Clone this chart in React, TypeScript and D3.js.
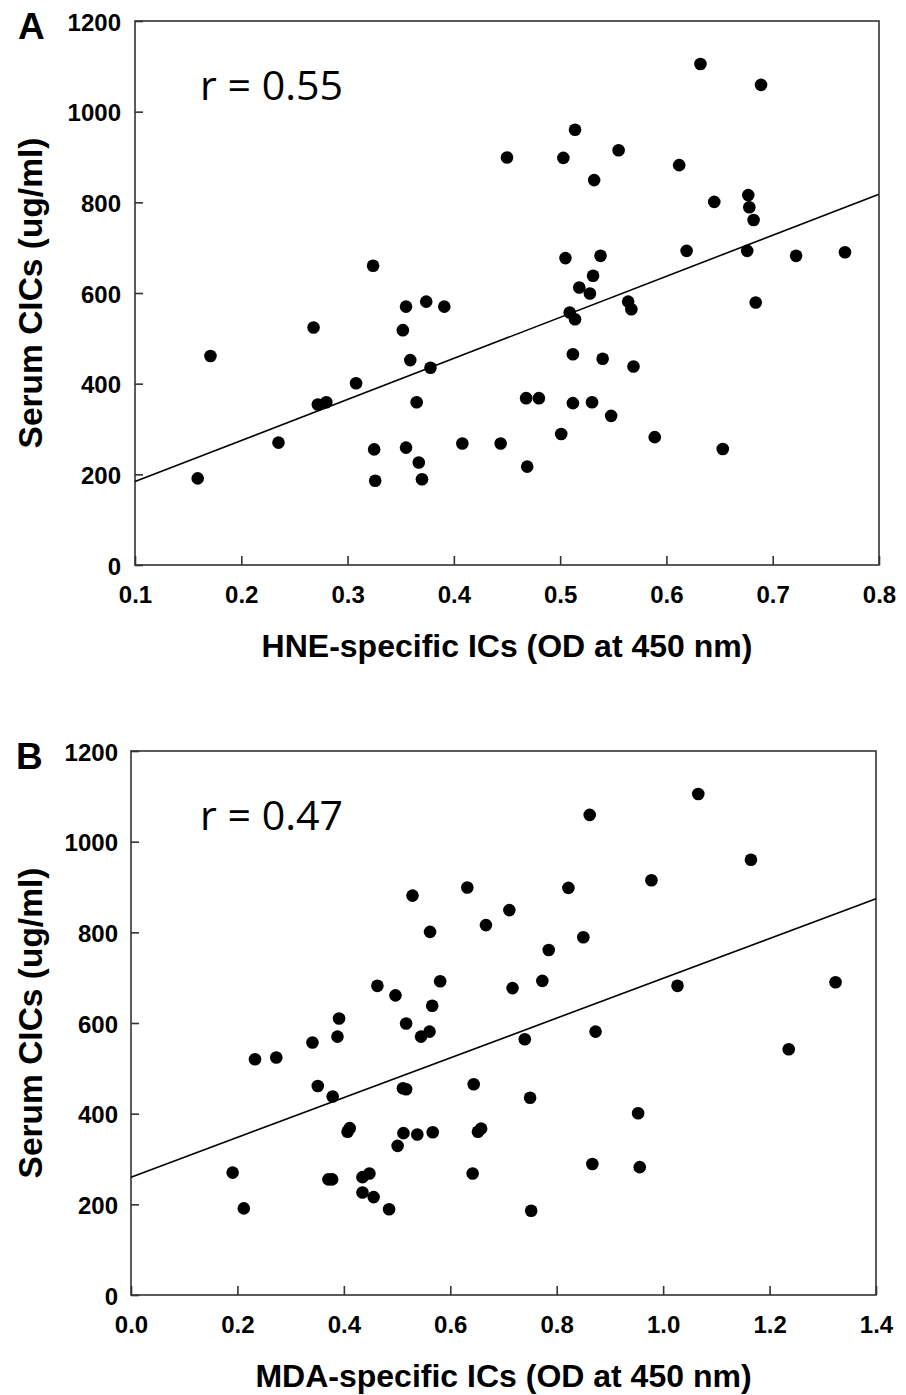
import React, { useEffect, useRef } from "react";
import * as d3 from "d3";

// panel A: HNE-specific ICs vs serum CICs
const hneX = [
  0.324, 0.159, 0.171, 0.268, 0.235, 0.272, 0.28, 0.308, 0.325, 0.326,
  0.352, 0.355, 0.374, 0.391, 0.359, 0.378, 0.365, 0.355, 0.367, 0.37,
  0.564, 0.567, 0.509, 0.514, 0.684, 0.512, 0.54, 0.569, 0.468, 0.48,
  0.512, 0.53, 0.548, 0.501, 0.408, 0.444, 0.469, 0.589, 0.653, 0.632,
  0.689, 0.514, 0.45, 0.503, 0.555, 0.532, 0.612, 0.645, 0.677, 0.678,
  0.682, 0.505, 0.538, 0.619, 0.676, 0.722, 0.768, 0.531, 0.518, 0.528,
];
const hneY = [
  660, 191, 461, 524, 270, 354, 359, 401, 255, 186,
  518, 570, 581, 570, 452, 435, 359, 259, 226, 189,
  581, 564, 557, 542, 579, 465, 455, 438, 368, 368,
  357, 359, 329, 289, 268, 268, 217, 282, 256, 1105,
  1059, 960, 899, 898, 915, 849, 882, 801, 816, 789,
  761, 677, 682, 693, 693, 682, 690, 638, 612, 599,
];

// panel B: MDA-specific ICs vs serum CICs
const mdaX = [
  0.529, 0.562, 0.463, 0.497, 0.581, 0.566, 0.391, 0.517, 0.561, 0.545,
  0.341, 0.388, 0.233, 0.273, 0.351, 0.379, 0.511, 0.517, 0.407, 0.411,
  0.512, 0.538, 0.567, 0.501, 0.191, 0.212, 0.371, 0.378, 0.435, 0.448,
  0.435, 0.456, 0.485, 1.066, 0.862, 1.165, 0.632, 0.822, 0.978, 0.711,
  0.667, 0.85, 0.785, 0.717, 0.773, 1.027, 1.324, 0.873, 0.74, 1.236,
  0.644, 0.75, 0.953, 0.658, 0.652, 0.867, 0.956, 0.642, 0.752,
];
const mdaY = [
  881, 801, 682, 661, 692, 638, 610, 599, 581, 570,
  557, 570, 520, 524, 461, 438, 456, 454, 360, 368,
  357, 354, 359, 329, 270, 191, 255, 255, 260, 268,
  226, 216, 189, 1105, 1059, 960, 899, 898, 915, 849,
  816, 789, 761, 677, 693, 682, 690, 581, 564, 542,
  465, 435, 401, 367, 360, 289, 282, 268, 186,
];

// fitted lines: [x at start, y at start, x at end, y at end]
const hneFit = [0.1, 184, 0.8, 818];
const mdaFit = [0.0, 260, 1.4, 874];

const yTicks = [0, 200, 400, 600, 800, 1000, 1200];
const hneTicks = [0.1, 0.2, 0.3, 0.4, 0.5, 0.6, 0.7, 0.8];
const mdaTicks = [0.0, 0.2, 0.4, 0.6, 0.8, 1.0, 1.2, 1.4];

const FONT = "'Liberation Sans', Arial, Helvetica, sans-serif";

const drawPanel = (svg, opt) => {
  const { left, right, top, bottom, xDomain, xTicks, xs, ys, fit, letter, rText, xLabel, labelGap } = opt;
  const g = svg.append("g");

  const x = d3.scaleLinear().domain(xDomain).range([left, right]);
  const y = d3.scaleLinear().domain([0, 1200]).range([bottom, top]);

  // frame
  g.append("rect")
    .attr("x", left)
    .attr("y", top)
    .attr("width", right - left)
    .attr("height", bottom - top)
    .attr("fill", "none")
    .attr("stroke", "#333")
    .attr("stroke-width", 1.6);

  const xAxis = g
    .append("g")
    .attr("transform", `translate(0,${bottom})`)
    .call(d3.axisBottom(x).tickValues(xTicks).tickFormat(d3.format(".1f")).tickSize(-9).tickSizeOuter(0).tickPadding(21));
  const yAxis = g
    .append("g")
    .attr("transform", `translate(${left},0)`)
    .call(d3.axisLeft(y).tickValues(yTicks).tickFormat(d3.format("d")).tickSize(-8).tickSizeOuter(0).tickPadding(labelGap));

  [xAxis, yAxis].forEach((ax) => {
    ax.select(".domain").remove();
    ax.selectAll(".tick line").attr("stroke", "#333").attr("stroke-width", 1.6);
    ax.selectAll(".tick text")
      .attr("fill", "#000")
      .style("font-family", FONT)
      .style("font-weight", "bold")
      .style("font-size", "24px");
  });
  yAxis.selectAll(".tick text").attr("dy", "0.38em");

  // regression line
  g.append("path")
    .attr("d", d3.line()([[x(fit[0]), y(fit[1])], [x(fit[2]), y(fit[3])]]))
    .attr("stroke", "#000")
    .attr("stroke-width", 1.6)
    .attr("fill", "none");

  // points
  g.selectAll("circle.pt")
    .data(xs.map((v, i) => [v, ys[i]]))
    .enter()
    .append("circle")
    .attr("class", "pt")
    .attr("cx", (d) => x(d[0]))
    .attr("cy", (d) => y(d[1]))
    .attr("r", 6.3)
    .attr("fill", "#000");

  // correlation text
  g.append("text")
    .attr("x", 200)
    .attr("y", top + 79)
    .attr("textLength", 143)
    .attr("lengthAdjust", "spacingAndGlyphs")
    .style("font-family", "'Open Sans', 'Noto Sans', sans-serif")
    .style("font-size", "40px")
    .text(rText);

  // panel letter
  g.append("text")
    .attr("x", letter === "A" ? 18 : 16)
    .attr("y", top + 18)
    .style("font-family", FONT)
    .style("font-weight", "bold")
    .style("font-size", "37px")
    .text(letter);

  // axis titles
  g.append("text")
    .attr("x", (left + right) / 2)
    .attr("y", bottom + 92)
    .attr("text-anchor", "middle")
    .style("font-family", FONT)
    .style("font-weight", "bold")
    .style("font-size", "32px")
    .text(xLabel);

  g.append("text")
    .attr("transform", `translate(42,${(top + bottom) / 2}) rotate(-90)`)
    .attr("text-anchor", "middle")
    .style("font-family", FONT)
    .style("font-weight", "bold")
    .style("font-size", "33.5px")
    .text("Serum CICs (ug/ml)");
};

const App = () => {
  const svgRef = useRef(null);

  useEffect(() => {
    const svg = d3.select(svgRef.current);
    svg.selectAll("*").remove();

    drawPanel(svg, {
      left: 135, right: 879, top: 21, bottom: 565,
      xDomain: [0.1, 0.8], xTicks: hneTicks, xs: hneX, ys: hneY, fit: hneFit,
      letter: "A", rText: "r = 0.55", xLabel: "HNE-specific ICs (OD at 450 nm)", labelGap: 14,
    });
    drawPanel(svg, {
      left: 131, right: 876, top: 751, bottom: 1295,
      xDomain: [0, 1.4], xTicks: mdaTicks, xs: mdaX, ys: mdaY, fit: mdaFit,
      letter: "B", rText: "r = 0.47", xLabel: "MDA-specific ICs (OD at 450 nm)", labelGap: 13,
    });
  }, []);

  return (
    <svg
      ref={svgRef}
      width={906}
      height={1395}
      xmlns="http://www.w3.org/2000/svg"
      style={{ position: "absolute", left: 0, top: 0, background: "#fff" }}
    ></svg>
  );
};

export default App;
